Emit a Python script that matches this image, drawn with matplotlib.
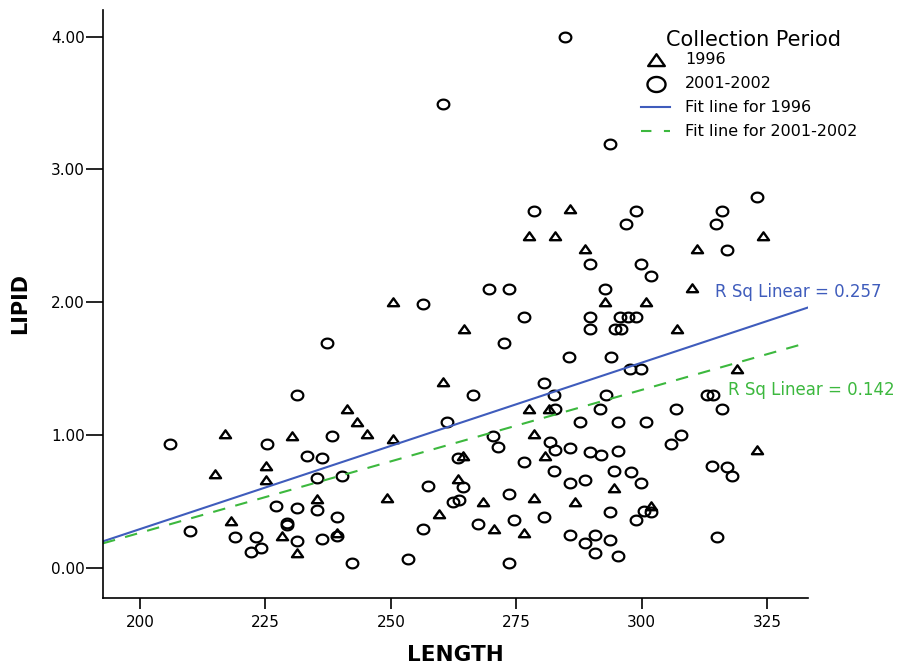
import numpy as np
import matplotlib.pyplot as plt
from matplotlib.path import Path
from matplotlib.lines import Line2D

plt.rcParams['font.family'] = ['DejaVu Sans']

# 1996 samples (triangles)
len_1996 = [216.9, 215.0, 225.1, 225.1, 218.1, 260.4, 241.3, 243.3, 230.3, 245.2,
            250.4, 249.2, 235.3, 259.6, 228.3, 239.3, 231.3, 277.5, 281.5, 278.5,
            280.7, 264.4, 263.4, 294.5, 268.4, 278.5, 286.7, 270.6, 276.5, 323.0,
            301.9, 285.7, 277.5, 282.7, 324.2, 288.7, 311.0, 310.0, 292.7, 300.9,
            264.6, 307.0, 319.0, 250.4]
lip_1996 = [1.01, 0.71, 0.77, 0.66, 0.35, 1.40, 1.20, 1.10, 0.99, 1.01,
            0.97, 0.53, 0.52, 0.41, 0.24, 0.26, 0.11, 1.20, 1.20, 1.01,
            0.84, 0.84, 0.67, 0.60, 0.50, 0.53, 0.50, 0.29, 0.26, 0.89,
            0.47, 2.70, 2.50, 2.50, 2.50, 2.40, 2.40, 2.11, 2.00, 2.00,
            1.80, 1.80, 1.50, 2.00]

# 2001-2002 samples (circles)
len_2001 = [206.0, 225.3, 210.0, 218.9, 223.1, 224.1, 222.1, 227.1, 231.3, 238.3,
            233.3, 236.3, 235.3, 240.3, 261.2, 257.4, 231.3, 235.3, 239.3, 229.3,
            229.3, 256.4, 236.3, 239.3, 231.3, 242.3, 253.4,
            280.6, 266.4, 282.5, 292.9, 282.7, 291.7, 287.7, 295.3, 270.4, 271.4,
            281.7, 282.7, 285.7, 289.7, 291.9, 295.3, 263.4, 276.5, 282.5, 294.5,
            285.7, 288.7, 264.4, 262.4, 263.6, 273.5, 293.7, 267.4, 274.5, 280.5,
            285.7, 288.7, 290.7, 293.7, 290.7, 295.3, 273.5,
            313.0, 314.2, 306.8, 316.0, 300.9, 307.8, 305.8, 314.0, 317.0, 318.0,
            297.9, 299.9, 300.5, 301.9, 298.9, 315.0,
            293.7, 323.0, 278.5, 298.9, 316.0, 296.9, 314.8, 317.0, 289.7, 299.9,
            301.9, 269.6, 273.5, 292.7, 276.5, 289.7, 295.7, 297.3, 298.9, 289.7,
            294.7, 295.9, 272.6, 285.5, 293.9, 297.7, 299.9,
            256.4, 237.3, 284.7, 260.4]
lip_2001 = [0.93, 0.93, 0.28, 0.23, 0.23, 0.15, 0.12, 0.47, 1.30, 0.99,
            0.84, 0.83, 0.68, 0.69, 1.10, 0.62, 0.45, 0.44, 0.38, 0.34,
            0.32, 0.29, 0.22, 0.24, 0.20, 0.04, 0.07,
            1.39, 1.30, 1.30, 1.30, 1.20, 1.20, 1.10, 1.10, 0.99, 0.91,
            0.95, 0.89, 0.90, 0.87, 0.85, 0.88, 0.83, 0.80, 0.73, 0.73,
            0.64, 0.66, 0.61, 0.50, 0.51, 0.56, 0.42, 0.33, 0.36, 0.38,
            0.25, 0.19, 0.25, 0.21, 0.11, 0.09, 0.04,
            1.30, 1.30, 1.20, 1.20, 1.10, 1.00, 0.93, 0.77, 0.76, 0.69,
            0.72, 0.64, 0.43, 0.42, 0.36, 0.23,
            3.19, 2.79, 2.69, 2.69, 2.69, 2.59, 2.59, 2.39, 2.29, 2.29,
            2.20, 2.10, 2.10, 2.10, 1.89, 1.89, 1.89, 1.89, 1.89, 1.80,
            1.80, 1.80, 1.69, 1.59, 1.59, 1.50, 1.50,
            1.99, 1.69, 4.00, 3.49]

# linear fits: intercept, slope
fit_1996 = [-2.211, 0.01252]
fit_2001 = [-1.885, 0.01075]
rsq_labels = ["R Sq Linear = 0.257", "R Sq Linear = 0.142"]
legend_title = "Collection Period"
legend_labels = ["1996", "2001-2002", "Fit line for 1996", "Fit line for 2001-2002"]

blue = "#3f5cbc"
green = "#3cb83e"

t = np.linspace(0, 2 * np.pi, 80)
circ = Path(np.column_stack([0.6 * np.cos(t), 0.5 * np.sin(t)]), closed=True)
tri = Path([(-0.6, -0.4), (0.6, -0.4), (0.0, 0.45), (-0.6, -0.4)], closed=True)

W, H = 903, 665
fig = plt.figure(figsize=(W / 100, H / 100), dpi=100)
ax = fig.add_axes([103 / W, 1 - 598 / H, 705 / W, 588 / H])

ax.plot(len_1996, lip_1996, linestyle="none", marker=tri, ms=8.0,
        mfc="none", mec="black", mew=1.7)
ax.plot(len_2001, lip_2001, linestyle="none", marker=circ, ms=8.4,
        mfc="none", mec="black", mew=1.6)

xlim = (192.6, 333.2)
xs = np.array(xlim)
ax.plot(xs, fit_1996[0] + fit_1996[1] * xs, color=blue, lw=1.5)
ax.plot(xs, fit_2001[0] + fit_2001[1] * xs, color=green, lw=1.5, dashes=(6, 5))

ax.text(314.6, 2.08, rsq_labels[0], color=blue, fontsize=12, va="center")
ax.text(317.2, 1.34, rsq_labels[1], color=green, fontsize=12, va="center")

ax.set_xlim(*xlim)
ax.set_ylim(-0.226, 4.2)
ax.set_xticks([200, 225, 250, 275, 300, 325])
ax.set_yticks([0, 1, 2, 3, 4])
ax.set_yticklabels(["%.2f" % v for v in [0, 1, 2, 3, 4]])
ax.tick_params(labelsize=11, width=1.2, direction="out")
ax.tick_params(axis="x", length=8, pad=4)
ax.tick_params(axis="y", length=12, pad=1)
ax.spines["top"].set_visible(False)
ax.spines["right"].set_visible(False)
ax.spines["left"].set_linewidth(1.2)
ax.spines["bottom"].set_linewidth(1.2)

ax.set_xlabel("LENGTH", fontsize=15.5, fontweight="bold", labelpad=11)
ax.set_ylabel("LIPID", fontsize=15, fontweight="bold", labelpad=15)

# legend drawn by hand in figure pixels
def fx(px):
    return px / W

def fy(py):
    return 1 - py / H

fig.text(fx(754), fy(40), legend_title, fontsize=15, ha="center", va="center")
rows = [60, 84, 107, 131]
fig.add_artist(Line2D([fx(656)], [fy(rows[0])], transform=fig.transFigure, linestyle="none",
                      marker=tri, ms=12, mfc="none", mec="black", mew=1.7))
fig.add_artist(Line2D([fx(656)], [fy(rows[1])], transform=fig.transFigure, linestyle="none",
                      marker=circ, ms=13, mfc="none", mec="black", mew=1.7))
fig.add_artist(Line2D([fx(641), fx(670)], [fy(rows[2])] * 2, transform=fig.transFigure,
                      color=blue, lw=1.5))
fig.add_artist(Line2D([fx(641), fx(670)], [fy(rows[3])] * 2, transform=fig.transFigure,
                      color=green, lw=1.5, dashes=(5, 6)))
for lab, r in zip(legend_labels, rows):
    fig.text(fx(685), fy(r), lab, fontsize=11.5, ha="left", va="center")

fig.savefig("out.png", dpi=100)
